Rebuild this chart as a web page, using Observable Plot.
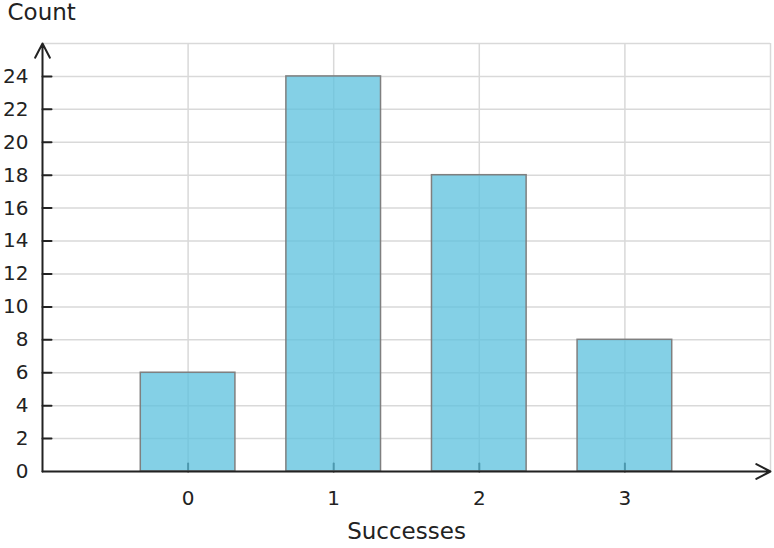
<!DOCTYPE html>
<html><head><meta charset="utf-8">
<script src="https://cdn.jsdelivr.net/npm/d3@7"></script>
<script src="https://cdn.jsdelivr.net/npm/@observablehq/plot@0.6"></script>
<style>html,body{margin:0;padding:0;background:#fff;}</style>
</head><body><div id="chart"></div>
<script>
const successes = [0, 1, 2, 3];
const counts = [6, 24, 18, 8];
const yTicks = [0, 2, 4, 6, 8, 10, 12, 14, 16, 18, 20, 22, 24];
const xTicks = [0, 1, 2, 3];
const xDomain = [-1, 4];
const yDomain = [0, 26];
const xLabel = "Successes";
const yLabel = "Count";

const data = successes.map((s, i) => ({s, c: counts[i]}));
const half = 0.325;
const vline = {draw(ctx, l) { ctx.moveTo(0, 0); ctx.lineTo(0, -l); }};
const ink = "#222";

const chart = Plot.plot({
  width: 774, height: 548,
  marginLeft: 42, marginRight: 4, marginTop: 43, marginBottom: 77,
  style: {fontFamily: "'DejaVu Sans', sans-serif", fontSize: "20px", color: ink, background: "#fff"},
  x: {domain: xDomain},
  y: {domain: yDomain},
  marks: [
    Plot.gridY(yTicks.concat([yDomain[1]]), {stroke: "#d9d9d9", strokeOpacity: 1, strokeWidth: 1.5}),
    Plot.gridX(xTicks.concat([xDomain[1]]), {stroke: "#d9d9d9", strokeOpacity: 1, strokeWidth: 1.5}),
    Plot.vector(xTicks, {x: d => d, y: 0, length: 8, anchor: "start", shape: vline, stroke: ink, strokeWidth: 2}),
    Plot.rectY(data, {x1: d => d.s - half, x2: d => d.s + half, y1: 0, y2: "c",
      fill: "#5bc0de", fillOpacity: 0.75, stroke: "#7f7f7f", strokeWidth: 1.5}),
    Plot.arrow([0], {x1: xDomain[0], y1: 0, x2: xDomain[1], y2: 0, stroke: ink, strokeWidth: 2, headLength: 12, headAngle: 55}),
    Plot.arrow([0], {x1: xDomain[0], y1: 0, x2: xDomain[0], y2: yDomain[1], stroke: ink, strokeWidth: 2, headLength: 12, headAngle: 55}),
    Plot.vector(yTicks.filter(d => d > 0), {x: xDomain[0], y: d => d, length: 9, rotate: 90, anchor: "start", shape: vline, stroke: ink, strokeWidth: 2}),
    Plot.axisY({ticks: yTicks, tickSize: 0, tickPadding: 14, label: null, fontSize: 20, tickFormat: d3.format("d")}),
    Plot.axisX({ticks: xTicks, tickSize: 0, tickPadding: 19, label: null, fontSize: 20, tickFormat: d3.format("d")}),
    Plot.text([yLabel], {text: d => d, frameAnchor: "top-left", dx: -35, dy: -31, textAnchor: "start", lineAnchor: "middle", fontSize: 23, fill: ink}),
    Plot.text([xLabel], {text: d => d, frameAnchor: "bottom", dy: 60, lineAnchor: "middle", fontSize: 23, fill: ink})
  ]
});
document.getElementById("chart").append(chart);
</script>
</body></html>
